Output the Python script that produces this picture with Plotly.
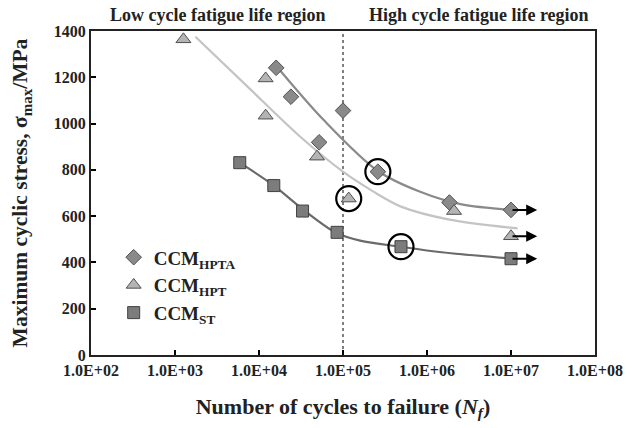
import numpy as np
import plotly.graph_objects as go

# ---------------- data ----------------
# measured points
hpta_n = [1.6e4, 2.4e4, 5.2e4, 1.0e5, 2.6e5, 1.85e6, 1.0e7]
hpta_s = [1241, 1116, 919, 1056, 792, 659, 627]
hpt_n = [1.26e3, 1.2e4, 1.2e4, 4.9e4, 1.17e5, 2.1e6, 1.0e7]
hpt_s = [1364, 1195, 1034, 857, 676, 622, 513]
st_n = [5.9e3, 1.5e4, 3.3e4, 8.5e4, 4.9e5, 1.0e7]
st_s = [831, 732, 622, 530, 468, 416]

# fitted trend curves
hpta_fit_n = [1.6e4, 5.9e4, 2.6e5, 8.3e5, 2.5e6, 1e7]
hpta_fit_s = [1250, 1015, 795, 705, 652, 627]
hpt_fit_n = [1.75e3, 7e3, 3.1e4, 1e5, 2.3e5, 5e5, 1.85e6, 1.2e7]
hpt_fit_s = [1375, 1166, 943, 792, 706, 640, 585, 547]
st_fit_n = [5.9e3, 1.5e4, 3.4e4, 8.3e4, 1.6e5, 4.8e5, 1.5e6, 1e7]
st_fit_s = [831, 732, 627, 528, 494, 468, 444, 417]

# circled points (index into each series)
hpta_circ = 4
hpt_circ = 4
st_circ = 4

runout_end = 2.05e7
boundary_n = 1e5

x_tickvals = [1e2, 1e3, 1e4, 1e5, 1e6, 1e7, 1e8]
x_ticktext = ["1.0E+02", "1.0E+03", "1.0E+04", "1.0E+05", "1.0E+06", "1.0E+07", "1.0E+08"]
y_tickvals = [0, 200, 400, 600, 800, 1000, 1200, 1400]

region_labels = ["Low cycle fatigue life region", "High cycle fatigue life region"]
series_names = ["CCM<sub>HPTA</sub>", "CCM<sub>HPT</sub>", "CCM<sub>ST</sub>"]

FONT = "Liberation Serif"
TXT = "#222222"

fig = go.Figure()

# boundary dotted line
fig.add_trace(go.Scatter(x=[boundary_n, boundary_n], y=[0, 1400], mode="lines",
                         line=dict(color="black", width=1, dash="dot"),
                         showlegend=False, hoverinfo="skip"))

# trend curves
fig.add_trace(go.Scatter(x=hpta_fit_n, y=hpta_fit_s, mode="lines", line_shape="spline",
                         line=dict(color="#8a8a8a", width=2.2, smoothing=0.9), showlegend=False))
fig.add_trace(go.Scatter(x=hpt_fit_n, y=hpt_fit_s, mode="lines", line_shape="spline",
                         line=dict(color="#c4c4c4", width=2.2, smoothing=0.9), showlegend=False))
fig.add_trace(go.Scatter(x=st_fit_n, y=st_fit_s, mode="lines", line_shape="spline",
                         line=dict(color="#6a6a6a", width=2.2, smoothing=0.9), showlegend=False))

# markers
fig.add_trace(go.Scatter(x=hpta_n, y=hpta_s, mode="markers", name=series_names[0],
                         marker=dict(symbol="diamond", size=12, color="#8a8a8a",
                                     line=dict(color="#505050", width=1))))
fig.add_trace(go.Scatter(x=hpt_n, y=hpt_s, mode="markers", name=series_names[1],
                         marker=dict(symbol="triangle-up", size=13, color="#b4b4b4",
                                     line=dict(color="#505050", width=1))))
fig.add_trace(go.Scatter(x=st_n, y=st_s, mode="markers", name=series_names[2],
                         marker=dict(symbol="square", size=12, color="#7c7c7c",
                                     line=dict(color="#404040", width=1))))

# circles
fig.add_trace(go.Scatter(x=[hpta_n[hpta_circ], hpt_n[hpt_circ], st_n[st_circ]],
                         y=[hpta_s[hpta_circ], hpt_s[hpt_circ], st_s[st_circ]],
                         mode="markers", showlegend=False,
                         marker=dict(symbol="circle-open", size=25, color="black",
                                     line=dict(color="black", width=2.2))))

# run-out arrows
for n_arr, s_arr in [(hpta_n, hpta_s), (hpt_n, hpt_s), (st_n, st_s)]:
    fig.add_annotation(x=np.log10(runout_end), y=s_arr[-1], ax=np.log10(n_arr[-1]), ay=s_arr[-1],
                       xref="x", yref="y", axref="x", ayref="y", text="", showarrow=True,
                       arrowhead=2, arrowsize=1.1, arrowwidth=2, arrowcolor="black", standoff=0)

# region labels
fig.add_annotation(text=region_labels[0], x=0.252, y=1.048, xref="paper", yref="paper",
                   xanchor="center", yanchor="middle", showarrow=False,
                   font=dict(family=FONT, size=18, color=TXT, weight="bold"))
fig.add_annotation(text=region_labels[1], x=0.77, y=1.048, xref="paper", yref="paper",
                   xanchor="center", yanchor="middle", showarrow=False,
                   font=dict(family=FONT, size=18, color=TXT, weight="bold"))

fig.update_layout(
    width=632, height=428,
    margin=dict(l=91, r=37, t=31, b=73),
    paper_bgcolor="white", plot_bgcolor="white",
    font=dict(family=FONT, color=TXT),
    legend=dict(x=0.045, y=0.36, xanchor="left", yanchor="top",
                font=dict(family=FONT, size=19, color=TXT, weight="bold"),
                bgcolor="rgba(0,0,0,0)", tracegroupgap=0),
    xaxis=dict(type="log", range=[2, 8], tickvals=x_tickvals, ticktext=x_ticktext,
               ticks="inside", ticklen=5, tickwidth=1.5, tickcolor="black",
               showline=True, linecolor="#222", linewidth=2, mirror=True, showgrid=False,
               zeroline=False, automargin=False,
               tickfont=dict(family=FONT, size=16, color=TXT, weight="bold"),
               title=dict(text="Number of cycles to failure (<i>N<sub>f</sub></i>)",
                          font=dict(family=FONT, size=22, color=TXT, weight="bold"), standoff=20)),
    yaxis=dict(range=[0, 1400], tickvals=y_tickvals,
               ticks="inside", ticklen=5, tickwidth=1.5, tickcolor="black",
               showline=True, linecolor="#222", linewidth=2, mirror=True, showgrid=False,
               zeroline=False, automargin=False,
               tickfont=dict(family=FONT, size=16, color=TXT, weight="bold"),
               tickformat="d",
               title=dict(text="Maximum cyclic stress, σ<sub>max</sub>/MPa",
                          font=dict(family=FONT, size=21.5, color=TXT, weight="bold"), standoff=20)),
)

fig.write_html("out.html", config={"displayModeBar": False},
               post_script="document.body.style.margin='0';")
